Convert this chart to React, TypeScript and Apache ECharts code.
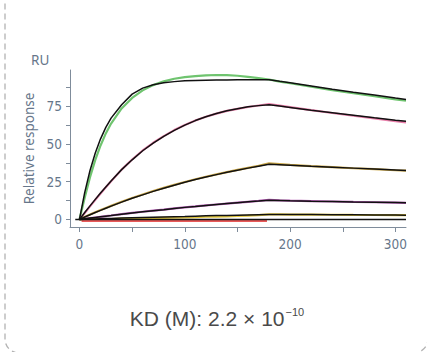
import React, { useEffect, useRef } from "react";
import * as echarts from "echarts";

// Time points (s)
const TIMES = [0, 5, 10, 15, 20, 25, 30, 40, 50, 60, 70, 80, 90, 100, 110, 120, 130, 140, 150, 160, 170, 180, 190, 200, 220, 240, 260, 280, 300, 310];

// Measured responses (coloured) and 1:1 fits (black), RU
const GREEN_DATA = [0, 14.5, 28, 39.5, 49, 57, 63.5, 73.5, 80.5, 85.5, 89, 91.5, 93.2, 94.3, 95, 95.5, 95.7, 95.6, 95.2, 94.5, 93.6, 92.7, 91.3, 90.2, 87.9, 85.7, 83.6, 81.6, 79.6, 78.7];
const GREEN_FIT = [0, 17.9, 32.4, 44.0, 53.4, 61.0, 67.1, 76.0, 83.0, 87.0, 89.2, 90.5, 91.3, 91.8, 92.0, 92.2, 92.3, 92.4, 92.5, 92.5, 92.6, 92.6, 91.5, 90.5, 88.4, 86.3, 84.3, 82.4, 80.4, 79.5];
const PINK_DATA = [0, 4.3, 8.7, 13, 17.2, 21.3, 25.3, 33, 39.7, 45.7, 50.8, 55.2, 59.2, 62.6, 65.5, 68, 70.1, 71.9, 73.3, 74.5, 75.5, 76.4, 75.4, 74.4, 72.4, 70.5, 68.7, 66.9, 65.1, 64.3];
const PINK_FIT = [0, 4.6, 9, 13.3, 17.5, 21.5, 25.5, 33, 39.5, 45.5, 50.5, 55, 59, 62.5, 65.5, 68, 70.2, 72, 73.4, 74.6, 75.4, 76, 75.1, 74.2, 72.4, 70.7, 69.0, 67.3, 65.7, 65.0];
const ORANGE_DATA = [0, 1.7, 3.3, 4.8, 6.2, 7.6, 9.0, 11.7, 14.2, 16.5, 18.8, 20.9, 22.9, 24.8, 26.6, 28.3, 29.9, 31.4, 32.8, 34.2, 35.6, 37.1, 36.6, 36.1, 35.3, 34.6, 33.9, 33.3, 32.6, 32.3];
const ORANGE_FIT = [0, 1.6, 3.1, 4.6, 6.0, 7.4, 8.8, 11.5, 14.0, 16.3, 18.6, 20.7, 22.7, 24.6, 26.4, 28.1, 29.7, 31.2, 32.6, 34.0, 35.3, 36.5, 36.2, 35.9, 35.2, 34.6, 34.0, 33.4, 32.8, 32.5];
const PURPLE_DATA = [0, 0.4, 0.85, 1.3, 1.75, 2.2, 2.6, 3.5, 4.3, 5.1, 5.8, 6.5, 7.3, 8.0, 8.6, 9.3, 9.9, 10.5, 11.1, 11.7, 12.3, 13.0, 12.7, 12.5, 12.2, 11.9, 11.6, 11.4, 11.2, 11.0];
const PURPLE_FIT = [0, 0.45, 0.9, 1.35, 1.8, 2.2, 2.6, 3.5, 4.3, 5.1, 5.8, 6.5, 7.3, 8.0, 8.6, 9.3, 9.9, 10.5, 11.1, 11.7, 12.2, 12.8, 12.6, 12.4, 12.1, 11.9, 11.6, 11.4, 11.2, 11.1];
const YELLOW_DATA = [0, -0.1, 0, 0.1, 0.2, 0.3, 0.3, 0.5, 0.6, 0.8, 0.9, 1.1, 1.2, 1.4, 1.6, 1.8, 1.9, 2.1, 2.3, 2.5, 2.9, 3.3, 3.3, 3.25, 3.2, 3.1, 3.0, 2.95, 2.9, 2.85];
const YELLOW_FIT = [0, 0.12, 0.25, 0.37, 0.5, 0.6, 0.7, 0.9, 1.1, 1.3, 1.5, 1.7, 1.85, 2.0, 2.2, 2.4, 2.55, 2.7, 2.85, 3.0, 3.15, 3.3, 3.28, 3.25, 3.2, 3.1, 3.05, 2.95, 2.9, 2.85];

const ZERO_TIMES = [-4, 310];
const ZERO_FIT = [0, 0];
const RED_TIMES = [2, 178];
const RED_DATA = [-1.0, -0.9];

const X_TICKS = [0, 50, 100, 150, 200, 250, 300];
const X_LABELS = [0, 100, 200, 300];
const Y_TICKS = [0, 12.5, 25, 37.5, 50, 62.5, 75, 87.5];
const Y_LABELS = [0, 25, 50, 75];

const pairs = (t: number[], v: number[]) => t.map((x, i) => [x, v[i]]);

const AXIS_COLOR = "#7f8c9b";
const LABEL_COLOR = "#66768a";
const TICK_FONT = "'Liberation Sans Narrow', 'DejaVu Sans Condensed', 'Noto Sans', sans-serif";

export default function App() {
  const ref = useRef<HTMLDivElement>(null);
  useEffect(() => {
    if (!ref.current) return;
    const chart = echarts.init(ref.current, undefined, { renderer: "svg" });
    const dataLine = (name: string, color: string, t: number[], v: number[]) => ({
      name,
      type: "line",
      data: pairs(t, v),
      showSymbol: false,
      smooth: false,
      z: 2,
      lineStyle: { color, width: 2.2 },
      silent: true,
    });
    const fitLine = (name: string, t: number[], v: number[]) => ({
      name,
      type: "line",
      data: pairs(t, v),
      showSymbol: false,
      smooth: false,
      z: 3,
      lineStyle: { color: "#111111", width: 1.5 },
      silent: true,
    });
    chart.setOption({
      animation: false,
      backgroundColor: "#ffffff",
      grid: { left: 70, right: 21, top: 70, bottom: 125, containLabel: false, outerBoundsMode: "none" },
      xAxis: {
        type: "value",
        min: -9,
        max: 310,
        axisLine: { show: true, onZero: false, lineStyle: { color: AXIS_COLOR, width: 1 } },
        axisTick: { show: true, length: 5, customValues: X_TICKS, lineStyle: { color: AXIS_COLOR } },
        axisLabel: { customValues: X_LABELS, color: LABEL_COLOR, fontSize: 13.5, fontFamily: TICK_FONT, margin: 10 },
        splitLine: { show: false },
      },
      yAxis: {
        type: "value",
        min: -5,
        max: 99,
        name: "Relative response",
        nameLocation: "middle",
        nameGap: 33,
        nameTextStyle: { color: LABEL_COLOR, fontSize: 13.5, fontFamily: "'Noto Sans', sans-serif" },
        axisLine: { show: true, onZero: false, lineStyle: { color: AXIS_COLOR, width: 1 } },
        axisTick: { show: true, length: 4, customValues: Y_TICKS, lineStyle: { color: AXIS_COLOR } },
        axisLabel: { customValues: Y_LABELS, color: LABEL_COLOR, fontSize: 13.5, fontFamily: TICK_FONT, margin: 8 },
        splitLine: { show: false },
      },
      graphic: [
        {
          type: "rect",
          shape: { x: 5, y: -30, width: 423, height: 383, r: 14 },
          style: { fill: "none", stroke: "#b3b3b3", lineWidth: 1.3, lineDash: [6, 4] },
          silent: true,
        },
        {
          type: "text",
          x: 31,
          y: 60,
          style: { text: "RU", fill: LABEL_COLOR, fontSize: 13.5, fontFamily: "'Noto Sans', sans-serif", verticalAlign: "middle", align: "left" },
        },
        {
          type: "text",
          x: 217,
          y: 318,
          style: {
            text: "{a|KD (M): 2.2 × 10}{b|−10}",
            align: "center",
            verticalAlign: "middle",
            fill: "#4a4a4a",
            rich: {
              a: { fontSize: 21, fontFamily: "'Liberation Sans', Arial, sans-serif", fill: "#4a4a4a", lineHeight: 24 },
              b: { fontSize: 11, fontFamily: "'Liberation Sans', Arial, sans-serif", fill: "#4a4a4a", verticalAlign: "top", lineHeight: 12, padding: [0, 0, 0, 1] },
            },
          },
        },
      ],
      series: [
        dataLine("green", "#6fc46f", TIMES, GREEN_DATA),
        dataLine("pink", "#ea7fab", TIMES, PINK_DATA),
        dataLine("orange", "#c9a646", TIMES, ORANGE_DATA),
        dataLine("purple", "#b45cb4", TIMES, PURPLE_DATA),
        dataLine("yellow", "#e2c83e", TIMES, YELLOW_DATA),
        dataLine("red", "#e85a5a", RED_TIMES, RED_DATA),
        fitLine("fit1", TIMES, GREEN_FIT),
        fitLine("fit2", TIMES, PINK_FIT),
        fitLine("fit3", TIMES, ORANGE_FIT),
        fitLine("fit4", TIMES, PURPLE_FIT),
        fitLine("fit5", TIMES, YELLOW_FIT),
        fitLine("fit6", ZERO_TIMES, ZERO_FIT),
      ],
    });
    return () => chart.dispose();
  }, []);
  return (
    <div
      ref={ref}
      style={{ position: "fixed", left: 0, top: 0, width: 427, height: 352, background: "#ffffff" }}
    />
  );
}
